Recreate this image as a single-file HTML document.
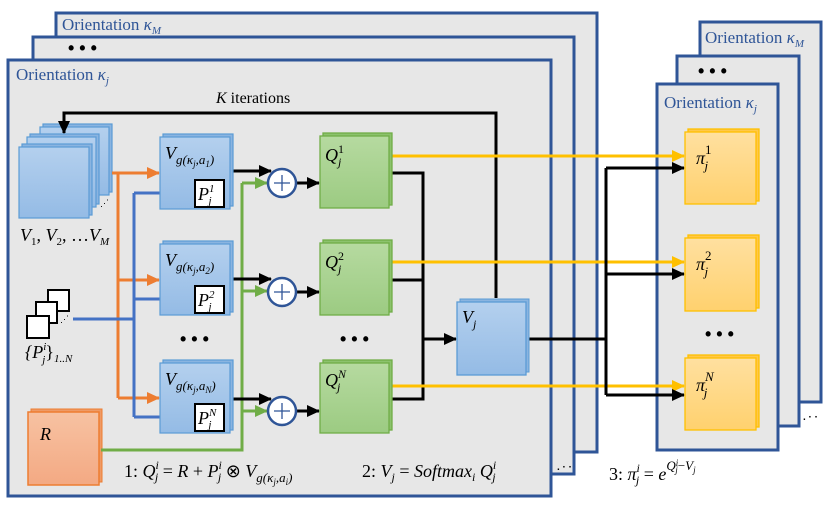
<!DOCTYPE html>
<html><head><meta charset="utf-8"><style>
html,body{margin:0;padding:0;background:#fff}
svg{display:block}
.o{font-family:"Liberation Serif",serif;fill:#2f5597;font-size:17px}
.m{font-family:"Liberation Serif",serif;font-style:italic;fill:#000;font-size:18px}
.r{font-family:"Liberation Serif",serif;fill:#000;font-size:16px}
</style></head><body>
<svg width="831" height="508" viewBox="0 0 831 508" xmlns="http://www.w3.org/2000/svg">
<defs>
<linearGradient id="gb" x1="0" y1="0" x2="0" y2="1"><stop offset="0" stop-color="#b4d0ee"/><stop offset="1" stop-color="#94bbe5"/></linearGradient>
<linearGradient id="gg" x1="0" y1="0" x2="0" y2="1"><stop offset="0" stop-color="#b6daa0"/><stop offset="1" stop-color="#9ccb82"/></linearGradient>
<linearGradient id="gy" x1="0" y1="0" x2="0" y2="1"><stop offset="0" stop-color="#ffe0a0"/><stop offset="1" stop-color="#ffd16e"/></linearGradient>
<linearGradient id="go" x1="0" y1="0" x2="0" y2="1"><stop offset="0" stop-color="#f7c2a2"/><stop offset="1" stop-color="#f3a983"/></linearGradient>
<marker id="ak" markerWidth="13" markerHeight="12" refX="12" refY="6" orient="auto" markerUnits="userSpaceOnUse"><path d="M0,0 L13,6 L0,12z" fill="#000"/></marker>
<marker id="ay" markerWidth="13" markerHeight="12" refX="12" refY="6" orient="auto" markerUnits="userSpaceOnUse"><path d="M0,0 L13,6 L0,12z" fill="#ffc000"/></marker>
<marker id="ao" markerWidth="13" markerHeight="12" refX="12" refY="6" orient="auto" markerUnits="userSpaceOnUse"><path d="M0,0 L13,6 L0,12z" fill="#ed7d31"/></marker>
<marker id="ab" markerWidth="13" markerHeight="12" refX="12" refY="6" orient="auto" markerUnits="userSpaceOnUse"><path d="M0,0 L13,6 L0,12z" fill="#4472c4"/></marker>
<marker id="ag" markerWidth="13" markerHeight="12" refX="12" refY="6" orient="auto" markerUnits="userSpaceOnUse"><path d="M0,0 L13,6 L0,12z" fill="#70ad47"/></marker>
</defs>

<!-- left panels -->
<rect x="56" y="13" width="541" height="439" fill="#e7e7e7" stroke="#2f5597" stroke-width="3"/>
<text class="o" x="62" y="30">Orientation <tspan font-style="italic">κ</tspan><tspan font-style="italic" font-size="11" dy="4">M</tspan></text>
<rect x="33" y="37" width="541" height="437" fill="#e7e7e7" stroke="#2f5597" stroke-width="3"/>
<text x="68" y="54" font-size="18" font-family="Liberation Sans" font-weight="bold">• • •</text>
<rect x="8" y="60" width="543" height="436" fill="#e7e7e7" stroke="#2f5597" stroke-width="3"/>
<text class="o" x="16" y="80">Orientation <tspan font-style="italic">κ</tspan><tspan font-style="italic" font-size="11" dy="4">j</tspan></text>
<text x="557" y="470" font-size="10" font-family="Liberation Sans" font-weight="bold">. · ·</text>

<!-- right panels -->
<rect x="700" y="22" width="121" height="380" fill="#e7e7e7" stroke="#2f5597" stroke-width="3"/>
<text class="o" x="705" y="43" font-size="16">Orientation <tspan font-style="italic">κ</tspan><tspan font-style="italic" font-size="11" dy="4">M</tspan></text>
<rect x="677" y="56" width="122" height="370" fill="#e7e7e7" stroke="#2f5597" stroke-width="3"/>
<text x="698" y="77" font-size="18" font-family="Liberation Sans" font-weight="bold">• • •</text>
<rect x="657" y="84" width="121" height="366" fill="#e7e7e7" stroke="#2f5597" stroke-width="3"/>
<text class="o" x="664" y="108" font-size="16">Orientation <tspan font-style="italic">κ</tspan><tspan font-style="italic" font-size="11" dy="4">j</tspan></text>
<text x="803" y="420" font-size="10" font-family="Liberation Sans" font-weight="bold">. · ·</text>
<text x="705" y="340" font-size="18" font-family="Liberation Sans" font-weight="bold">• • •</text>

<text class="r" x="216" y="103" font-size="17"><tspan font-style="italic">K</tspan> iterations</text>

<!-- V stack -->
<g stroke="#5b9bd5" stroke-width="1.2">
<rect x="43" y="124" width="69" height="68" fill="#8ab4e0"/><rect x="40" y="127" width="69" height="68" fill="url(#gb)"/>
<rect x="30" y="134" width="69" height="70" fill="#8ab4e0"/><rect x="27" y="137" width="69" height="70" fill="url(#gb)"/>
<rect x="22" y="144" width="70" height="71" fill="#8ab4e0"/><rect x="19" y="147" width="70" height="71" fill="url(#gb)"/>
</g>
<text x="100" y="206" font-size="9">⋰</text>
<text class="m" x="20" y="241">V<tspan font-size="11" dy="4" font-style="normal">1</tspan><tspan dy="-4" font-style="normal">, </tspan>V<tspan font-size="11" dy="4" font-style="normal">2</tspan><tspan dy="-4" font-style="normal">, …</tspan>V<tspan font-size="11" dy="4">M</tspan></text>

<!-- P stack -->
<g fill="#fff" stroke="#000" stroke-width="2">
<rect x="48" y="290" width="21" height="21"/>
<rect x="36" y="302" width="21" height="21"/>
<rect x="27" y="316" width="22" height="22"/>
</g>
<text x="60" y="322" font-size="9">⋰</text>
<text class="m" x="25" y="358">{P<tspan font-size="11" dy="-8">i</tspan><tspan font-size="11" dx="-4" dy="13">j</tspan><tspan dy="-5" font-style="normal">}</tspan><tspan font-size="11" dy="4">1..N</tspan></text>

<!-- R -->
<rect x="31" y="409" width="71" height="73" fill="#ee9a66" stroke="#ed7d31" stroke-width="1"/>
<rect x="28" y="412" width="71" height="73" fill="url(#go)" stroke="#ed7d31" stroke-width="1.5"/>
<text class="m" x="40" y="440" font-size="19">R</text>

<!-- connectors -->
<g fill="none" stroke-width="3">
<path d="M496,298 V113 H64 V133" stroke="#000" marker-end="url(#ak)"/>
<path d="M112,173 H118 V398" stroke="#ed7d31"/>
<path d="M118,173 H159" stroke="#ed7d31" marker-end="url(#ao)"/>
<path d="M118,280 H159" stroke="#ed7d31" marker-end="url(#ao)"/>
<path d="M118,398 H159" stroke="#ed7d31" marker-end="url(#ao)"/>
<path d="M73,319 H134" stroke="#4472c4"/>
<path d="M134,193 V417" stroke="#4472c4"/>
<path d="M134,193 H194" stroke="#4472c4" marker-end="url(#ab)"/>
<path d="M134,299 H194" stroke="#4472c4" marker-end="url(#ab)"/>
<path d="M134,417 H194" stroke="#4472c4" marker-end="url(#ab)"/>
<path d="M101,450 H242 V183" stroke="#70ad47"/>
<path d="M242,183 H267" stroke="#70ad47" marker-end="url(#ag)"/>
<path d="M242,291 H267" stroke="#70ad47" marker-end="url(#ag)"/>
<path d="M242,411 H267" stroke="#70ad47" marker-end="url(#ag)"/>
<path d="M232,171 H271" stroke="#000" marker-end="url(#ak)"/>
<path d="M232,279 H271" stroke="#000" marker-end="url(#ak)"/>
<path d="M232,399 H271" stroke="#000" marker-end="url(#ak)"/>
<path d="M296,183 H319" stroke="#000" marker-end="url(#ak)"/>
<path d="M296,292 H319" stroke="#000" marker-end="url(#ak)"/>
<path d="M296,411 H319" stroke="#000" marker-end="url(#ak)"/>
<path d="M392,173 H423 V399 H392 M392,280 H423" stroke="#000"/>
<path d="M423,339 H456" stroke="#000" marker-end="url(#ak)"/>
<path d="M392,156 H684" stroke="#ffc000" marker-end="url(#ay)"/>
<path d="M392,262 H684" stroke="#ffc000" marker-end="url(#ay)"/>
<path d="M392,386 H684" stroke="#ffc000" marker-end="url(#ay)"/>
<path d="M529,339 H606 M606,168 V395" stroke="#000"/>
<path d="M606,168 H684" stroke="#000" marker-end="url(#ak)"/>
<path d="M606,274 H684" stroke="#000" marker-end="url(#ak)"/>
<path d="M606,395 H684" stroke="#000" marker-end="url(#ak)"/>
</g>

<!-- Vg boxes -->
<g stroke="#5b9bd5" stroke-width="1.2">
<rect x="163" y="134" width="70" height="72" fill="#8ab4e0"/><rect x="160" y="137" width="70" height="72" fill="url(#gb)"/>
<rect x="163" y="241" width="70" height="71" fill="#8ab4e0"/><rect x="160" y="244" width="70" height="71" fill="url(#gb)"/>
<rect x="163" y="360" width="70" height="70" fill="#8ab4e0"/><rect x="160" y="363" width="70" height="70" fill="url(#gb)"/>
</g>
<g class="m">
<text x="165" y="159">V<tspan font-size="13" dy="5">g(κ</tspan><tspan font-size="9" dy="3">j</tspan><tspan font-size="13" dy="-3">,a</tspan><tspan font-size="9" dy="3">1</tspan><tspan font-size="13" dy="-3">)</tspan></text>
<text x="165" y="266">V<tspan font-size="13" dy="5">g(κ</tspan><tspan font-size="9" dy="3">j</tspan><tspan font-size="13" dy="-3">,a</tspan><tspan font-size="9" dy="3">2</tspan><tspan font-size="13" dy="-3">)</tspan></text>
<text x="165" y="385">V<tspan font-size="13" dy="5">g(κ</tspan><tspan font-size="9" dy="3">j</tspan><tspan font-size="13" dy="-3">,a</tspan><tspan font-size="9" dy="3">N</tspan><tspan font-size="13" dy="-3">)</tspan></text>
</g>
<g fill="#fff" stroke="#000" stroke-width="2">
<rect x="195" y="180" width="29" height="27"/>
<rect x="195" y="286" width="29" height="27"/>
<rect x="195" y="404" width="29" height="27"/>
</g>
<g class="m" font-size="16">
<text x="198" y="200">P<tspan font-size="11" dy="-8">1</tspan><tspan font-size="11" dx="-6" dy="12">j</tspan></text>
<text x="198" y="306">P<tspan font-size="11" dy="-8">2</tspan><tspan font-size="11" dx="-6" dy="12">j</tspan></text>
<text x="198" y="424">P<tspan font-size="11" dy="-8">N</tspan><tspan font-size="11" dx="-8" dy="12">j</tspan></text>
</g>
<text x="180" y="345" font-size="18" font-family="Liberation Sans" font-weight="bold">• • •</text>
<text x="340" y="345" font-size="18" font-family="Liberation Sans" font-weight="bold">• • •</text>

<!-- plus circles -->
<g fill="#fff" stroke="#2f5597" stroke-width="2.5">
<circle cx="282" cy="183" r="14"/><circle cx="282" cy="292" r="14"/><circle cx="282" cy="411" r="14"/>
</g>
<g stroke="#2f5597" stroke-width="1.3">
<path d="M274,183 h16 M282,175 v16"/><path d="M274,292 h16 M282,284 v16"/><path d="M274,411 h16 M282,403 v16"/>
</g>

<!-- Q boxes -->
<g stroke="#70ad47" stroke-width="1.3">
<rect x="323" y="133" width="69" height="72" fill="#8cc26d"/><rect x="320" y="136" width="69" height="72" fill="url(#gg)"/>
<rect x="323" y="240" width="69" height="72" fill="#8cc26d"/><rect x="320" y="243" width="69" height="72" fill="url(#gg)"/>
<rect x="323" y="360" width="69" height="70" fill="#8cc26d"/><rect x="320" y="363" width="69" height="70" fill="url(#gg)"/>
</g>
<g class="m">
<text x="325" y="161">Q<tspan font-size="12" dy="-8" font-style="normal">1</tspan><tspan font-size="12" dx="-6" dy="13">j</tspan></text>
<text x="325" y="268">Q<tspan font-size="12" dy="-8" font-style="normal">2</tspan><tspan font-size="12" dx="-6" dy="13">j</tspan></text>
<text x="325" y="386">Q<tspan font-size="12" dy="-8">N</tspan><tspan font-size="12" dx="-9" dy="13">j</tspan></text>
</g>

<!-- Vj -->
<rect x="460" y="299" width="69" height="73" fill="#8ab4e0" stroke="#5b9bd5" stroke-width="1"/>
<rect x="457" y="302" width="69" height="73" fill="url(#gb)" stroke="#5b9bd5" stroke-width="1.3"/>
<text class="m" x="462" y="323">V<tspan font-size="12" dy="5">j</tspan></text>

<!-- pi boxes -->
<g stroke="#ffc000" stroke-width="1.3">
<rect x="688" y="129" width="71" height="72" fill="#ffc84a"/><rect x="685" y="132" width="71" height="72" fill="url(#gy)"/>
<rect x="688" y="235" width="71" height="73" fill="#ffc84a"/><rect x="685" y="238" width="71" height="73" fill="url(#gy)"/>
<rect x="688" y="355" width="71" height="72" fill="#ffc84a"/><rect x="685" y="358" width="71" height="72" fill="url(#gy)"/>
</g>
<g class="m" font-size="20">
<text x="696" y="164">π<tspan font-size="13" dy="-10" font-style="normal">1</tspan><tspan font-size="13" dx="-7" dy="16">j</tspan></text>
<text x="696" y="270">π<tspan font-size="13" dy="-10" font-style="normal">2</tspan><tspan font-size="13" dx="-7" dy="16">j</tspan></text>
<text x="696" y="391">π<tspan font-size="13" dy="-10">N</tspan><tspan font-size="13" dx="-10" dy="16">j</tspan></text>
</g>

<!-- equations -->
<text class="m" x="124" y="477" font-size="18"><tspan font-style="normal">1: </tspan>Q<tspan font-size="12" dy="-8">i</tspan><tspan font-size="12" dx="-4" dy="12">j</tspan><tspan dy="-4" font-style="normal"> = </tspan>R<tspan font-style="normal"> + </tspan>P<tspan font-size="12" dy="-8">i</tspan><tspan font-size="12" dx="-4" dy="12">j</tspan><tspan dy="-4" font-style="normal">  ⊗  </tspan>V<tspan font-size="13" dy="5">g(κ</tspan><tspan font-size="9" dy="3">j</tspan><tspan font-size="13" dy="-3">,a</tspan><tspan font-size="9" dy="3">i</tspan><tspan font-size="13" dy="-3">)</tspan></text>
<text class="m" x="362" y="477" font-size="18"><tspan font-style="normal">2: </tspan>V<tspan font-size="12" dy="4">j</tspan><tspan dy="-4" font-style="normal"> = </tspan>Softmax<tspan font-size="12" dy="4">i</tspan><tspan dy="-4">  Q</tspan><tspan font-size="12" dy="-8">i</tspan><tspan font-size="12" dx="-4" dy="12">j</tspan></text>
<text class="m" x="609" y="480" font-size="18"><tspan font-style="normal">3: </tspan>π<tspan font-size="12" dy="-8">i</tspan><tspan font-size="12" dx="-4" dy="12">j</tspan><tspan dy="-4" font-style="normal"> = </tspan>e<tspan font-size="13" dy="-10">Q</tspan><tspan font-size="9" dy="-4">i</tspan><tspan font-size="9" dx="-3" dy="7">j</tspan><tspan font-size="13" dy="-3" font-style="normal">−</tspan><tspan font-size="13">V</tspan><tspan font-size="9" dy="3">j</tspan></text>
</svg>
</body></html>
